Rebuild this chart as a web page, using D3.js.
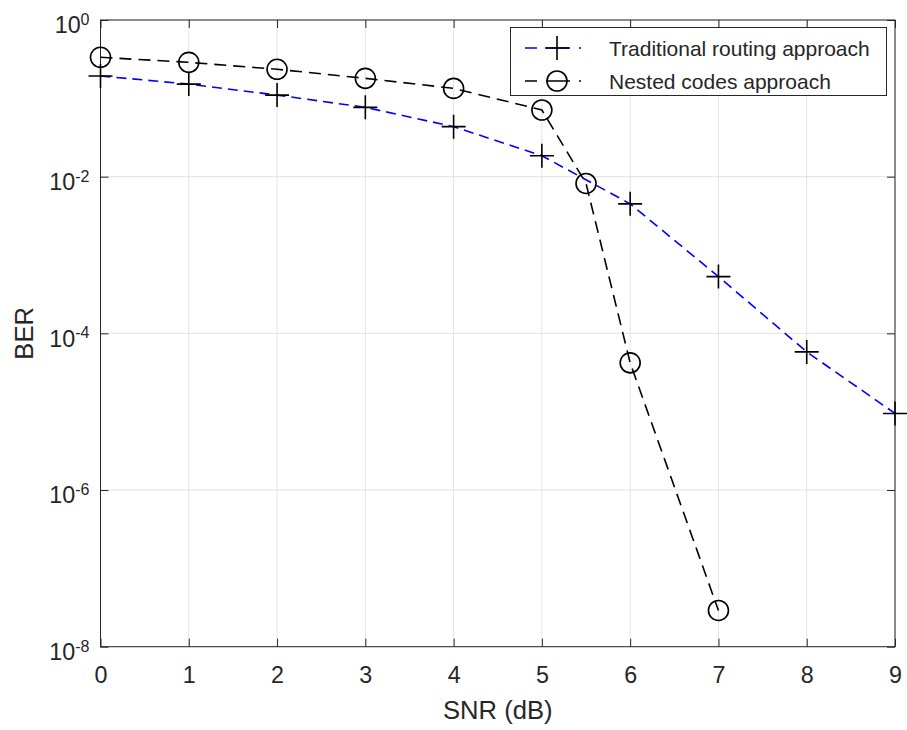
<!DOCTYPE html>
<html>
<head>
<meta charset="utf-8">
<script src="https://cdn.jsdelivr.net/npm/d3@7"></script>
<style>
  html, body { margin: 0; padding: 0; background: #fff; }
  svg text { font-family: "Liberation Sans", Arial, Helvetica, sans-serif; fill: #262626; }
</style>
</head>
<body>
<div id="chart"></div>
<script>
// BER versus SNR for the two transmission schemes
const snrTraditional = [0, 1, 2, 3, 4, 5, 6, 7, 8, 9];
const berTraditional = [0.193, 0.152, 0.110, 0.0767, 0.0435, 0.0185, 0.0045, 5.3e-4, 5.8e-5, 9.5e-6];

const snrNested = [0, 1, 2, 3, 4, 5, 5.5, 6, 7];
const berNested = [0.334, 0.288, 0.235, 0.18, 0.134, 0.071, 0.0082, 4.2e-5, 2.9e-8];

const xTicks = [0, 1, 2, 3, 4, 5, 6, 7, 8, 9];
const yTickExponents = [0, -2, -4, -6, -8];

const seriesNames = ["Traditional routing approach", "Nested codes approach"];

const W = 907, H = 730;
const plot = { left: 100.5, top: 20, right: 895, bottom: 646.7 };

const tickFont = 23.3, labelFont = 25.6, supFont = 16, legendFont = 21;

const svg = d3.select("#chart").append("svg")
  .attr("width", W).attr("height", H);

const x = d3.scaleLinear().domain([0, 9]).range([plot.left, plot.right]);
const y = d3.scaleLog().domain([1e-8, 1]).range([plot.bottom, plot.top]);

const axisColor = "#262626";
const gridColor = "#e3e3e3";

// grid
const grid = svg.append("g");
grid.selectAll("line.gx").data(xTicks).join("line")
  .attr("x1", d => x(d)).attr("x2", d => x(d))
  .attr("y1", plot.top).attr("y2", plot.bottom)
  .attr("stroke", gridColor).attr("stroke-width", 1);
grid.selectAll("line.gy").data(yTickExponents).join("line")
  .attr("y1", d => y(Math.pow(10, d))).attr("y2", d => y(Math.pow(10, d)))
  .attr("x1", plot.left).attr("x2", plot.right)
  .attr("stroke", gridColor).attr("stroke-width", 1);

// axes via d3 axis generators, ticks pointing inward
const tickLen = 8;
const xAxisBottom = d3.axisBottom(x).tickValues(xTicks).tickSize(-tickLen).tickPadding(0)
  .tickFormat(d3.format("d"));
const gxb = svg.append("g").attr("transform", `translate(0,${plot.bottom})`).call(xAxisBottom);
gxb.select(".domain").remove();
gxb.selectAll(".tick line").attr("stroke", axisColor);
gxb.selectAll(".tick text")
  .attr("y", 36.7).attr("dy", null)
  .attr("font-size", tickFont).attr("fill", axisColor)
  .attr("font-family", "Liberation Sans, Arial, sans-serif");

const xAxisTop = d3.axisTop(x).tickValues(xTicks).tickSize(-tickLen).tickFormat("");
const gxt = svg.append("g").attr("transform", `translate(0,${plot.top})`).call(xAxisTop);
gxt.select(".domain").remove();
gxt.selectAll(".tick line").attr("stroke", axisColor);

const yTickVals = yTickExponents.map(e => Math.pow(10, e));
const yAxisLeft = d3.axisLeft(y).tickValues(yTickVals).tickSize(-tickLen).tickFormat("");
const gyl = svg.append("g").attr("transform", `translate(${plot.left},0)`).call(yAxisLeft);
gyl.select(".domain").remove();
gyl.selectAll(".tick line").attr("stroke", axisColor);

const yAxisRight = d3.axisRight(y).tickValues(yTickVals).tickSize(-tickLen).tickFormat("");
const gyr = svg.append("g").attr("transform", `translate(${plot.right},0)`).call(yAxisRight);
gyr.select(".domain").remove();
gyr.selectAll(".tick line").attr("stroke", axisColor);

// y tick labels as 10 with superscript exponent
const ylab = svg.append("g");
yTickExponents.forEach(e => {
  const t = ylab.append("text")
    .attr("x", plot.left - 11)
    .attr("y", y(Math.pow(10, e)) + 13.4)
    .attr("text-anchor", "end")
    .attr("font-size", tickFont);
  t.append("tspan").text("10");
  t.append("tspan").attr("font-size", supFont).attr("dy", -8.5).text(String(e));
});

// box
svg.append("rect")
  .attr("x", plot.left).attr("y", plot.top)
  .attr("width", plot.right - plot.left).attr("height", plot.bottom - plot.top)
  .attr("fill", "none").attr("stroke", axisColor).attr("stroke-width", 1);

// axis labels
svg.append("text")
  .attr("x", (plot.left + plot.right) / 2).attr("y", 719)
  .attr("text-anchor", "middle").attr("font-size", labelFont)
  .text("SNR (dB)");
svg.append("text")
  .attr("transform", `translate(33,${(plot.top + plot.bottom) / 2}) rotate(-90)`)
  .attr("text-anchor", "middle").attr("font-size", labelFont)
  .text("BER");

// series
const line = d3.line().x(d => x(d[0])).y(d => y(d[1]));
const tradPts = snrTraditional.map((s, i) => [s, berTraditional[i]]);
const nestPts = snrNested.map((s, i) => [s, berNested[i]]);

svg.append("path").datum(tradPts)
  .attr("d", line).attr("fill", "none")
  .attr("stroke", "#0000ff").attr("stroke-width", 1.6)
  .attr("stroke-dasharray", "10,6");

svg.append("path").datum(nestPts)
  .attr("d", line).attr("fill", "none")
  .attr("stroke", "#000").attr("stroke-width", 1.6)
  .attr("stroke-dasharray", "12,7");

const plusHalf = 12;
function drawPlus(g, cx, cy) {
  g.append("path")
    .attr("d", `M${cx - plusHalf},${cy}H${cx + plusHalf}M${cx},${cy - plusHalf}V${cy + plusHalf}`)
    .attr("stroke", "#000").attr("stroke-width", 1.6).attr("fill", "none");
}
function drawCircle(g, cx, cy) {
  g.append("circle").attr("cx", cx).attr("cy", cy).attr("r", 10)
    .attr("stroke", "#000").attr("stroke-width", 1.6).attr("fill", "none");
}

const markers = svg.append("g");
tradPts.forEach(d => drawPlus(markers, x(d[0]), y(d[1])));
nestPts.forEach(d => drawCircle(markers, x(d[0]), y(d[1])));

// legend
const lg = svg.append("g");
lg.append("rect")
  .attr("x", 510.5).attr("y", 27.5).attr("width", 376).attr("height", 68)
  .attr("fill", "#fff").attr("stroke", axisColor).attr("stroke-width", 1);
const rows = [
  { name: seriesNames[0], color: "#0000ff", kind: "plus", cy: 48 },
  { name: seriesNames[1], color: "#000", kind: "circle", cy: 81 }
];
rows.forEach(r => {
  lg.append("line")
    .attr("x1", 525).attr("x2", 599).attr("y1", r.cy).attr("y2", r.cy)
    .attr("stroke", r.color).attr("stroke-width", 1.6)
    .attr("stroke-dasharray", "12,9,24,9,2,99");
  if (r.kind === "plus") drawPlus(lg, 557, r.cy);
  else drawCircle(lg, 557, r.cy);
  lg.append("text").attr("x", 609).attr("y", r.cy + 7.5)
    .attr("font-size", legendFont).attr("fill", "#000").text(r.name);
});
</script>
</body>
</html>
